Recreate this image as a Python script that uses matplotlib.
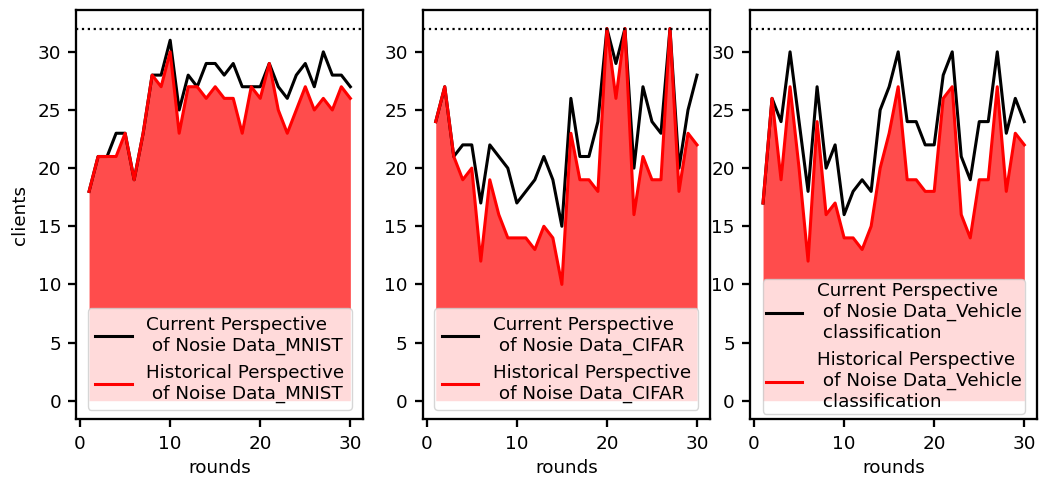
import matplotlib
matplotlib.use("Agg")
import matplotlib.pyplot as plt
import numpy as np

rounds = np.arange(1, 31)
total_clients = 32

mnist_current = [18, 21, 21, 23, 23, 19, 23, 28, 28, 31,
                 25, 28, 27, 29, 29, 28, 29, 27, 27, 27,
                 29, 27, 26, 28, 29, 27, 30, 28, 28, 27]
mnist_historical = [18, 21, 21, 21, 23, 19, 23, 28, 27, 30,
                    23, 27, 27, 26, 27, 26, 26, 23, 27, 26,
                    29, 25, 23, 25, 27, 25, 26, 25, 27, 26]

cifar_current = [24, 27, 21, 22, 22, 17, 22, 21, 20, 17,
                 18, 19, 21, 19, 15, 26, 21, 21, 24, 32,
                 29, 32, 20, 27, 24, 23, 32, 20, 25, 28]
cifar_historical = [24, 27, 21, 19, 20, 12, 19, 16, 14, 14,
                    14, 13, 15, 14, 10, 23, 19, 19, 18, 32,
                    26, 32, 16, 21, 19, 19, 32, 18, 23, 22]

vehicle_current = [17, 26, 24, 30, 24, 18, 27, 20, 22, 16,
                   18, 19, 18, 25, 27, 30, 24, 24, 22, 22,
                   28, 30, 21, 19, 24, 24, 30, 23, 26, 24]
vehicle_historical = [17, 26, 19, 27, 20, 12, 24, 16, 17, 14,
                      14, 13, 15, 20, 23, 27, 19, 19, 18, 18,
                      26, 27, 16, 14, 19, 19, 27, 18, 23, 22]

current_labels = [
    "Current Perspective\n of Nosie Data_MNIST",
    "Current Perspective\n of Nosie Data_CIFAR",
    "Current Perspective\n of Nosie Data_Vehicle\n classification",
]
historical_labels = [
    "Historical Perspective\n of Noise Data_MNIST",
    "Historical Perspective\n of Noise Data_CIFAR",
    "Historical Perspective\n of Noise Data_Vehicle\n classification",
]

panels = [
    (mnist_current, mnist_historical),
    (cifar_current, cifar_historical),
    (vehicle_current, vehicle_historical),
]

plt.rcParams.update({
    "font.family": "DejaVu Sans",
    "font.size": 13.2,
    "axes.linewidth": 1.65,
    "xtick.major.size": 5.5,
    "ytick.major.size": 5.5,
    "xtick.major.width": 1.65,
    "ytick.major.width": 1.65,
    "xtick.major.pad": 6.0,
    "ytick.major.pad": 5.3,
})

fig = plt.figure(figsize=(10.47, 4.78), dpi=100)
lefts = [0.0726, 0.4037, 0.7163]
width = 0.2745
bottom, height = 0.1228, 0.8563

for i, (cur, hist) in enumerate(panels):
    ax = fig.add_axes([lefts[i], bottom, width, height])
    ax.fill_between(rounds, 0, hist, color="red", alpha=0.7, linewidth=0)
    ax.plot(rounds, cur, color="black", linewidth=2.2, label=current_labels[i])
    ax.plot(rounds, hist, color="red", linewidth=2.2, label=historical_labels[i])
    ax.axhline(total_clients, color="black", linestyle=":", linewidth=1.6)
    ax.set_xlabel("rounds")
    if i == 0:
        ax.set_ylabel("clients", labelpad=6)
    ax.set_xticks([0, 10, 20, 30])
    ax.set_yticks([0, 5, 10, 15, 20, 25, 30])
    ax.set_ylim(-1.6, 33.6)
    if i == 2:
        ax.legend(loc="lower center", fontsize=13.2, borderpad=0.15,
                  borderaxespad=0.3)
    else:
        ax.legend(loc="lower center", fontsize=13.2)

fig.savefig("out.png", dpi=100)
